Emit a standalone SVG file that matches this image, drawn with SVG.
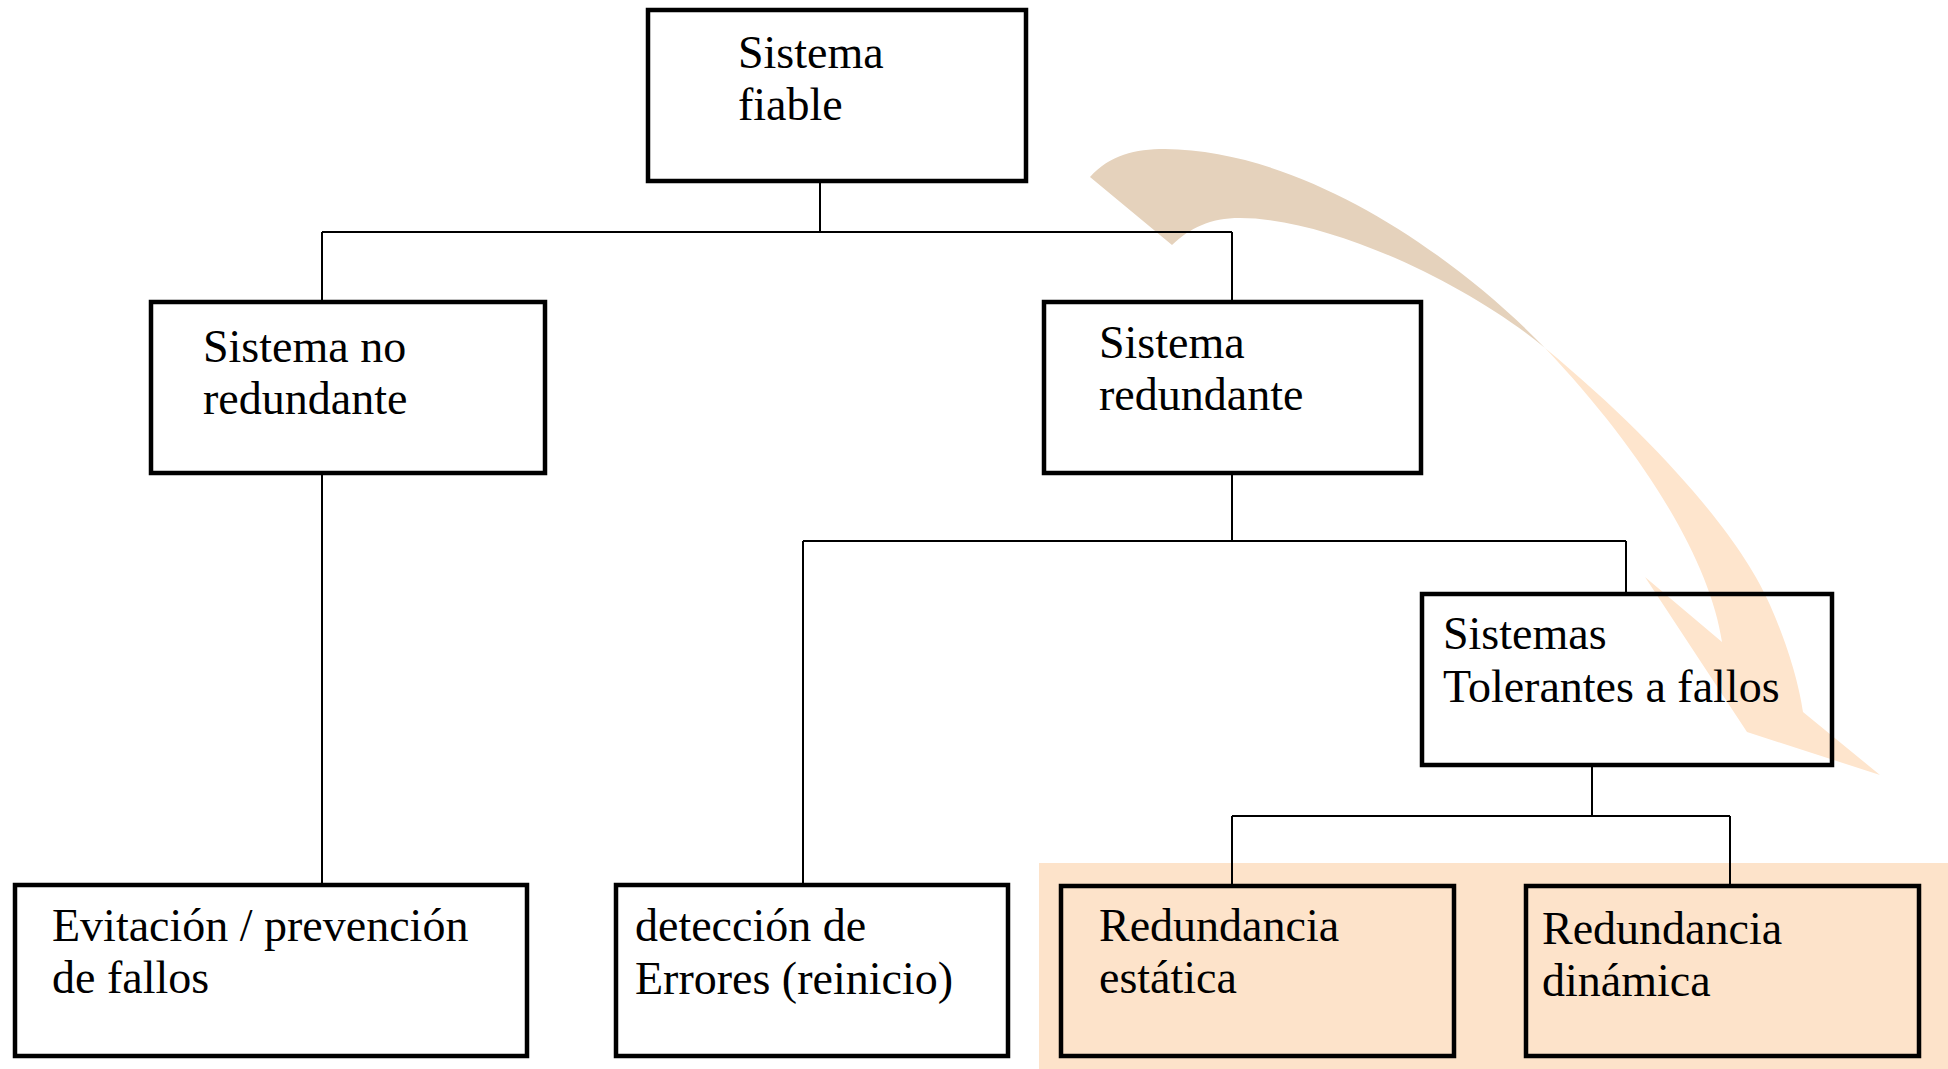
<svg xmlns="http://www.w3.org/2000/svg" width="1948" height="1069" viewBox="0 0 1948 1069">
<style>
  .box { fill: none; stroke: #000; stroke-width: 4.5; }
  .conn { fill: none; stroke: #000; stroke-width: 2; }
  .t { font-family: "Liberation Serif", "Times New Roman", serif; font-size: 46px; fill: #000; }
</style>
<rect x="0" y="0" width="1948" height="1069" fill="#fff"/>
<rect id="highlight" x="1039" y="863" width="909" height="206" fill="#FDE3CA"/>
<g id="curved-arrow">
  <path d="M1090,177 C1110,155 1135,149 1165,149 C1300,150 1450,250 1545,348 C1470,285 1330,218 1240,218 C1210,218 1190,228 1172,245 Z" fill="#E5D2BC"/>
  <path d="M1545,348 C1662,445 1742,540 1770,605 C1790,650 1800,690 1803,712 L1880,775 L1747,732 L1645,577 L1722,642 C1710,560 1642,450 1545,348 Z" fill="#FEE5CD"/>
</g>
<g id="connectors">
  <path class="conn" d="M820,181 V232"/>
  <path class="conn" d="M322,232 H1232"/>
  <path class="conn" d="M322,232 V302"/>
  <path class="conn" d="M1232,232 V302"/>
  <path class="conn" d="M322,473 V885"/>
  <path class="conn" d="M1232,473 V541"/>
  <path class="conn" d="M803,541 H1626"/>
  <path class="conn" d="M803,541 V885"/>
  <path class="conn" d="M1626,541 V594"/>
  <path class="conn" d="M1592,765 V816"/>
  <path class="conn" d="M1232,816 H1730"/>
  <path class="conn" d="M1232,816 V886"/>
  <path class="conn" d="M1730,816 V886"/>
</g>
<g id="sistema-fiable">
  <rect class="box" x="648" y="10" width="378" height="171"/>
  <text class="t" x="738" y="68">Sistema</text>
  <text class="t" x="738" y="120">fiable</text>
</g>
<g id="sistema-no-redundante">
  <rect class="box" x="151" y="302" width="394" height="171"/>
  <text class="t" x="203" y="362">Sistema no</text>
  <text class="t" x="203" y="414">redundante</text>
</g>
<g id="sistema-redundante">
  <rect class="box" x="1044" y="302" width="377" height="171"/>
  <text class="t" x="1099" y="358">Sistema</text>
  <text class="t" x="1099" y="410">redundante</text>
</g>
<g id="sistemas-tolerantes">
  <rect class="box" x="1422" y="594" width="410" height="171"/>
  <text class="t" x="1443" y="649">Sistemas</text>
  <text class="t" x="1443" y="702">Tolerantes a fallos</text>
</g>
<g id="evitacion">
  <rect class="box" x="15" y="885" width="512" height="171"/>
  <text class="t" x="52" y="941">Evitación / prevención</text>
  <text class="t" x="52" y="993">de fallos</text>
</g>
<g id="deteccion">
  <rect class="box" x="616" y="885" width="392" height="171"/>
  <text class="t" x="635" y="941">detección de</text>
  <text class="t" x="635" y="994">Errores (reinicio)</text>
</g>
<g id="redundancia-estatica">
  <rect class="box" x="1061" y="886" width="393" height="170"/>
  <text class="t" x="1099" y="941">Redundancia</text>
  <text class="t" x="1099" y="993">estática</text>
</g>
<g id="redundancia-dinamica">
  <rect class="box" x="1526" y="886" width="393" height="170"/>
  <text class="t" x="1542" y="944">Redundancia</text>
  <text class="t" x="1542" y="996">dinámica</text>
</g>
</svg>
